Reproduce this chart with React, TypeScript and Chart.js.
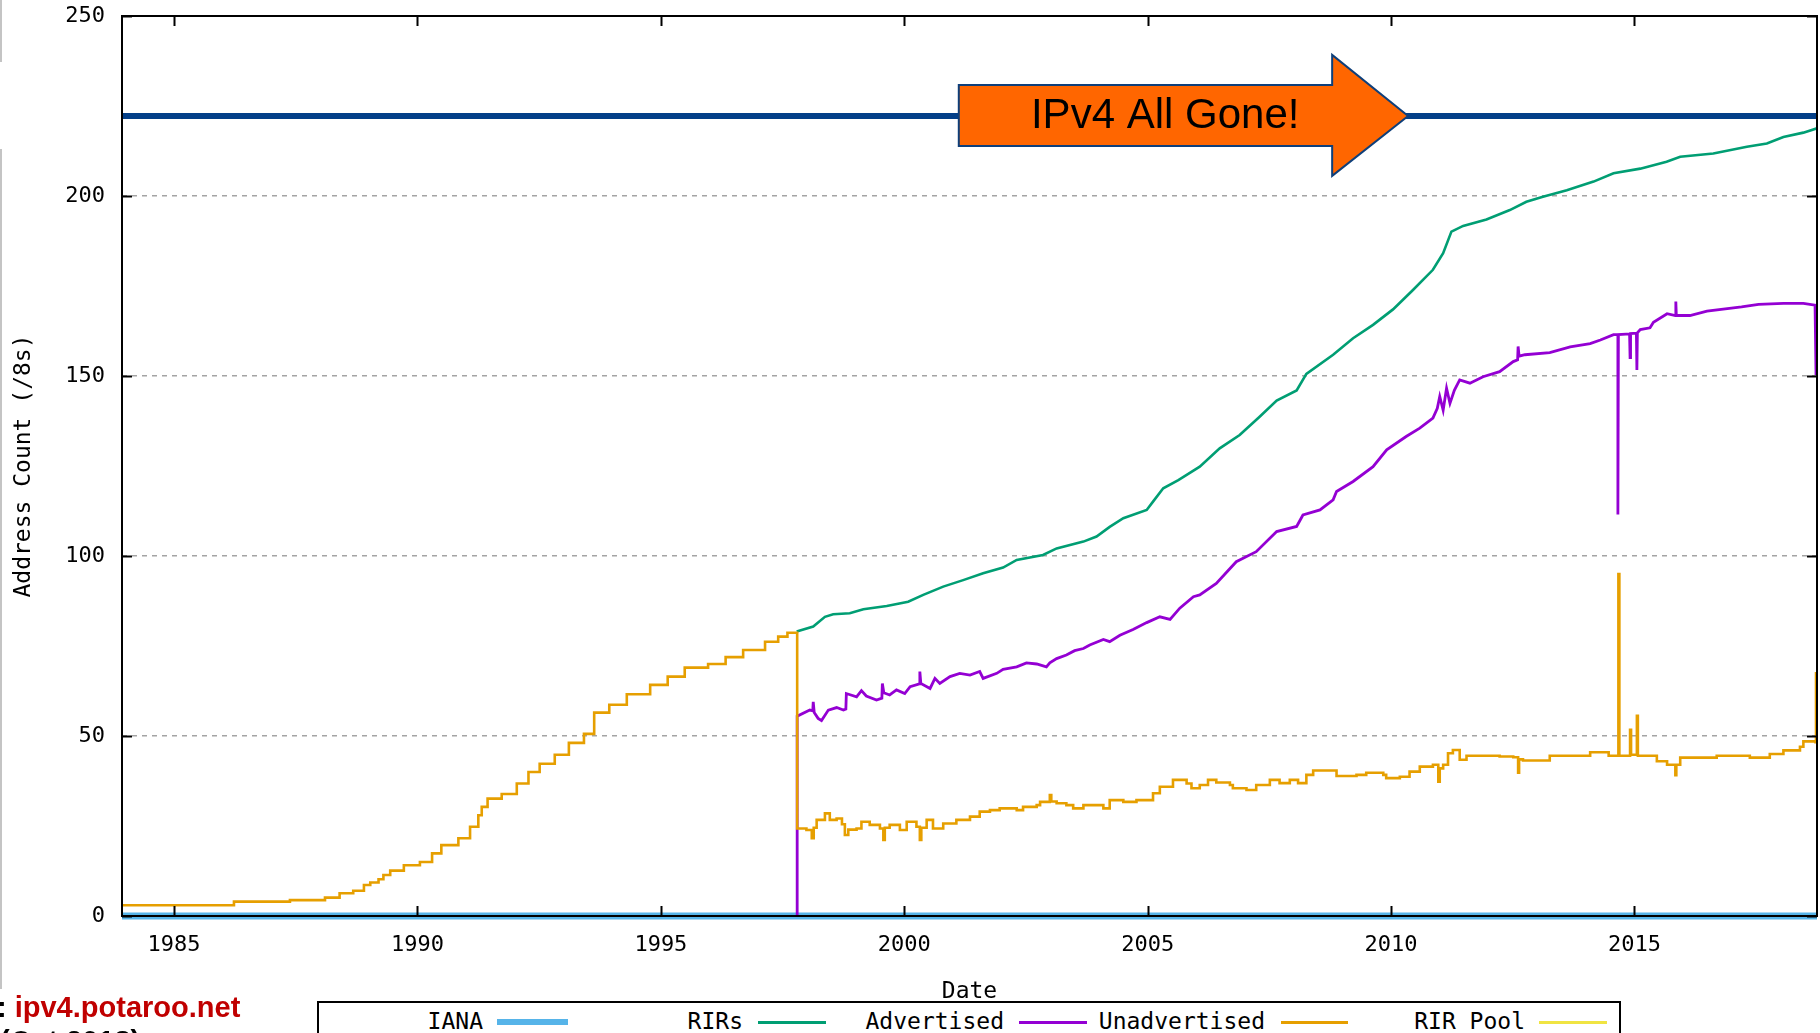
import React, { useEffect, useRef } from "react";
import { Chart, registerables } from "chart.js";

Chart.register(...registerables);

// ---------- axes ----------
const X_MIN = 1983.93;
const X_MAX = 2018.75;
const Y_MIN = 0;
const Y_MAX = 250;
const xTickYears = [1985, 1990, 1995, 2000, 2005, 2010, 2015];
const yTickValues = [0, 50, 100, 150, 200, 250];

// ---------- series ----------
const ianaYears = [1983.93, 2018.75];
const ianaValues = [0, 0];

const rirPoolYears = [1983.93, 2018.75];
const rirPoolValues = [0, 0];

const rirsYears = [
  1997.79, 1998.13, 1998.37, 1998.54, 1998.88, 1999.16, 1999.64, 2000.08, 2000.39, 2000.8,
  2001.21, 2001.62, 2002.03, 2002.31, 2002.85, 2003.13, 2003.68, 2003.95, 2004.22, 2004.5,
  2004.98, 2005.11, 2005.32, 2005.63, 2006.07, 2006.48, 2006.89, 2007.3, 2007.65, 2008.06,
  2008.26, 2008.81, 2009.22, 2009.63, 2010.04, 2010.45, 2010.86, 2011.07, 2011.24, 2011.48,
  2011.96, 2012.44, 2012.78, 2013.12, 2013.61, 2014.16, 2014.57, 2015.12, 2015.66, 2015.94,
  2016.62, 2017.31, 2017.72, 2018.06, 2018.47, 2018.75,
];
const rirsValues = [
  79.0, 80.4, 83.1, 83.8, 84.1, 85.2, 86.1, 87.3, 89.2, 91.5,
  93.3, 95.2, 96.8, 98.9, 100.3, 102.1, 104.0, 105.4, 108.1, 110.5,
  112.8, 115.1, 118.8, 121.1, 124.8, 129.9, 133.6, 138.7, 143.2, 146.0,
  150.6, 155.9, 160.5, 164.2, 168.5, 173.9, 179.5, 184.1, 190.1, 191.7,
  193.5, 196.1, 198.4, 199.8, 201.6, 204.0, 206.3, 207.6, 209.5, 210.9,
  211.8, 213.7, 214.6, 216.4, 217.6, 218.8,
];

// Advertised (purple)
const advYears = [
  1997.8, 1997.8, 1998.06, 1998.12, 1998.13, 1998.15, 1998.23, 1998.3, 1998.44, 1998.61,
  1998.75, 1998.8, 1998.81, 1999.02, 1999.12, 1999.22, 1999.43, 1999.54, 1999.55, 1999.58,
  1999.7, 1999.84, 2000.01, 2000.12, 2000.31, 2000.32, 2000.34, 2000.53, 2000.63, 2000.73,
  2000.94, 2001.14, 2001.35, 2001.55, 2001.62, 2001.9, 2002.03, 2002.31, 2002.51, 2002.72,
  2002.92, 2002.99, 2003.13, 2003.33, 2003.5, 2003.68, 2003.81, 2004.09, 2004.22, 2004.43,
  2004.7, 2004.98, 2005.25, 2005.46, 2005.66, 2005.94, 2006.07, 2006.41, 2006.82, 2007.23,
  2007.65, 2008.06, 2008.19, 2008.54, 2008.81, 2008.88, 2009.22, 2009.63, 2009.91, 2010.31,
  2010.59, 2010.86, 2010.95, 2011.0, 2011.07, 2011.14, 2011.21, 2011.3, 2011.41, 2011.62,
  2011.89, 2012.23, 2012.51, 2012.6, 2012.61, 2012.63, 2012.75, 2013.26, 2013.68, 2014.09,
  2014.3, 2014.57, 2014.66, 2014.66, 2014.67, 2014.9, 2014.91, 2014.92, 2015.04, 2015.05,
  2015.06, 2015.12, 2015.32, 2015.39, 2015.67, 2015.84, 2015.85, 2015.86, 2016.14, 2016.49,
  2017.2, 2017.55, 2018.06, 2018.47, 2018.71, 2018.73,
];
const advValues = [
  0, 55.5, 57.2, 57.0, 59.5, 56.5, 54.9, 54.3, 57.2, 57.9,
  57.2, 57.5, 61.8, 60.9, 62.6, 61.1, 60.0, 60.5, 64.6, 62.0,
  61.4, 62.8, 61.8, 63.7, 64.5, 67.9, 64.6, 63.2, 66.0, 64.6,
  66.5, 67.4, 66.9, 67.9, 66.0, 67.4, 68.5, 69.2, 70.3, 70.0,
  69.2, 70.3, 71.5, 72.5, 73.7, 74.3, 75.3, 76.8, 76.2, 78.0,
  79.6, 81.5, 83.1, 82.4, 85.5, 88.7, 89.2, 92.4, 98.4, 101.2,
  106.8, 108.2, 111.4, 112.8, 115.6, 117.9, 120.7, 124.8, 129.5, 133.2,
  135.5, 138.3, 141.0, 144.3, 140.5, 146.6, 142.4, 146.0, 148.9, 148.0,
  149.8, 151.2, 154.0, 154.5, 158.2, 155.5, 155.9, 156.5, 158.1, 159.0,
  160.0, 161.5, 161.5, 111.5, 161.5, 161.7, 155.1, 161.8, 161.9, 151.7,
  162.0, 162.9, 163.4, 164.9, 167.3, 166.8, 170.7, 166.8, 166.8, 168.0,
  169.2, 169.9, 170.2, 170.2, 169.7, 150.3,
];

// Unadvertised (orange)
const unadvYears = [
  1983.93, 1986.23, 1987.38, 1988.1, 1988.4, 1988.68, 1988.9, 1989.03, 1989.2, 1989.3,
  1989.44, 1989.72, 1990.05, 1990.3, 1990.49, 1990.84, 1991.08, 1991.25, 1991.32, 1991.44,
  1991.73, 1992.04, 1992.28, 1992.51, 1992.82, 1993.11, 1993.42, 1993.63, 1993.94, 1994.3,
  1994.78, 1995.14, 1995.49, 1995.97, 1996.33, 1996.69, 1997.14, 1997.41, 1997.6, 1997.8,
  1997.99, 1998.1, 1998.14, 1998.2, 1998.37, 1998.47, 1998.61, 1998.72, 1998.78, 1998.85,
  1999.02, 1999.12, 1999.29, 1999.5, 1999.57, 1999.6, 1999.7, 1999.91, 2000.05, 2000.25,
  2000.32, 2000.35, 2000.46, 2000.59, 2000.8, 2001.07, 2001.35, 2001.55, 2001.76, 2001.96,
  2002.31, 2002.44, 2002.72, 2002.79, 2002.99, 2003.02, 2003.13, 2003.33, 2003.47, 2003.68,
  2004.09, 2004.22, 2004.5, 2004.77, 2005.11, 2005.25, 2005.52, 2005.8, 2005.9, 2006.07,
  2006.24, 2006.41, 2006.69, 2006.75, 2007.03, 2007.23, 2007.51, 2007.71, 2007.92, 2008.09,
  2008.26, 2008.4, 2008.88, 2009.29, 2009.49, 2009.84, 2009.9, 2010.18, 2010.38, 2010.59,
  2010.86, 2010.97, 2011.0, 2011.07, 2011.17, 2011.27, 2011.41, 2011.55, 2012.23, 2012.51,
  2012.61, 2012.63, 2012.71, 2013.26, 2014.09, 2014.47, 2014.67, 2014.69, 2014.91, 2014.93,
  2015.05, 2015.07, 2015.46, 2015.67, 2015.84, 2015.86, 2015.94, 2016.69, 2017.37, 2017.78,
  2018.06, 2018.4, 2018.47, 2018.72, 2018.73,
];
const unadvValues = [
  3.0, 4.0, 4.4, 5.1, 6.3, 7.0, 8.6, 9.3, 10.2, 11.4,
  12.6, 14.1, 15.0, 17.4, 19.7, 21.6, 24.8, 28.0, 30.3, 32.6,
  33.9, 36.8, 40.0, 42.3, 44.8, 48.1, 50.6, 56.5, 58.7, 61.6,
  64.2, 66.5, 69.0, 70.0, 71.9, 73.9, 76.2, 77.6, 78.7, 24.3,
  23.9, 21.6, 24.5, 26.7, 28.5, 26.7, 27.1, 25.5, 22.5, 24.0,
  24.3, 26.2, 25.3, 24.3, 21.1, 24.5, 25.3, 23.9, 26.2, 24.8,
  21.1, 24.5, 26.7, 24.3, 25.7, 26.7, 27.6, 29.0, 29.4, 29.9,
  29.4, 30.3, 30.8, 31.7, 33.6, 31.8, 31.3, 30.8, 29.9, 30.8,
  29.9, 32.2, 31.7, 32.2, 34.1, 35.9, 37.8, 36.8, 35.5, 36.4,
  37.8, 37.1, 36.4, 35.5, 35.0, 36.4, 37.8, 36.9, 37.8, 36.9,
  39.2, 40.4, 38.9, 39.2, 39.8, 39.2, 38.3, 38.7, 40.1, 41.5,
  42.0, 37.3, 41.0, 42.0, 45.2, 46.1, 43.4, 44.5, 44.3, 44.1,
  39.8, 43.5, 43.2, 44.5, 45.5, 44.5, 95.0, 44.5, 51.7, 44.8,
  55.6, 44.5, 43.0, 42.0, 39.1, 42.0, 44.0, 44.5, 44.0, 45.0,
  46.0, 47.0, 48.5, 48.3, 67.8,
];

// ---------- annotation (slide overlay) in data units ----------
const GONE_LEVEL = 222.2;
const GONE_TEXT = "IPv4 All Gone!";
const arrowYears = [2001.12, 2008.79, 2010.35]; // body start, body end, tip
const arrowLevels = [230.8, 213.9, 239.2, 205.6]; // body top, body bottom, head top, head bottom
const arrowTextPos = [2005.36, 218.9];

// ---------- style ----------
const COLORS = {
  iana: "#56b4e9",
  rirs: "#009e73",
  adv: "#9400d3",
  unadv: "#e69f00",
  pool: "#f0e442",
  gone: "#033f88",
};
const MONO = '"DejaVu Sans Mono", "Liberation Mono", monospace';

const legendItems = [
  { label: "IANA", color: COLORS.iana, thick: 6, textRight: 483, lineLeft: 497, lineRight: 568 },
  { label: "RIRs", color: COLORS.rirs, thick: 3, textRight: 743, lineLeft: 758, lineRight: 826 },
  { label: "Advertised", color: COLORS.adv, thick: 3, textRight: 1004, lineLeft: 1019, lineRight: 1087 },
  { label: "Unadvertised", color: COLORS.unadv, thick: 3, textRight: 1265, lineLeft: 1281, lineRight: 1348 },
  { label: "RIR Pool", color: COLORS.pool, thick: 3, textRight: 1525, lineLeft: 1539, lineRight: 1607 },
];

const pts = (xs: number[], ys: number[]) => xs.map((x, i) => ({ x, y: ys[i] }));

const framePlugin = {
  id: "gnuFrame",
  afterDatasetsDraw(chart: any) {
    const { ctx, chartArea: a, scales } = chart;
    const x = scales.x;
    const y = scales.y;
    ctx.save();
    ctx.strokeStyle = "#000";
    ctx.lineWidth = 2;
    ctx.strokeRect(a.left, a.top, a.right - a.left, a.bottom - a.top);
    ctx.beginPath();
    for (const t of xTickYears) {
      const px = Math.round(x.getPixelForValue(t)) + 0.5;
      ctx.moveTo(px, a.bottom);
      ctx.lineTo(px, a.bottom - 10);
      ctx.moveTo(px, a.top);
      ctx.lineTo(px, a.top + 10);
    }
    for (const v of yTickValues) {
      const py = Math.round(y.getPixelForValue(v)) + 0.5;
      ctx.moveTo(a.left, py);
      ctx.lineTo(a.left + 10, py);
      ctx.moveTo(a.right, py);
      ctx.lineTo(a.right - 10, py);
    }
    ctx.stroke();

    // arrow
    const bx0 = x.getPixelForValue(arrowYears[0]);
    const bx1 = x.getPixelForValue(arrowYears[1]);
    const tx = x.getPixelForValue(arrowYears[2]);
    const yTop = y.getPixelForValue(arrowLevels[0]);
    const yBot = y.getPixelForValue(arrowLevels[1]);
    const hTop = y.getPixelForValue(arrowLevels[2]);
    const hBot = y.getPixelForValue(arrowLevels[3]);
    const ty = y.getPixelForValue(GONE_LEVEL);
    ctx.beginPath();
    ctx.moveTo(bx0, yTop);
    ctx.lineTo(bx1, yTop);
    ctx.lineTo(bx1, hTop);
    ctx.lineTo(tx, ty);
    ctx.lineTo(bx1, hBot);
    ctx.lineTo(bx1, yBot);
    ctx.lineTo(bx0, yBot);
    ctx.closePath();
    ctx.fillStyle = "#ff6600";
    ctx.fill();
    ctx.strokeStyle = "#0e3f7a";
    ctx.lineWidth = 2;
    ctx.lineJoin = "miter";
    ctx.stroke();
    ctx.fillStyle = "#000";
    ctx.font = '42px "Liberation Sans", Arial, sans-serif';
    ctx.textAlign = "center";
    ctx.textBaseline = "alphabetic";
    ctx.fillText(GONE_TEXT, x.getPixelForValue(arrowTextPos[0]), y.getPixelForValue(arrowTextPos[1]));
    ctx.restore();
  },
};

export default function App() {
  const canvasRef = useRef<HTMLCanvasElement | null>(null);

  useEffect(() => {
    const canvas = canvasRef.current;
    if (!canvas) return;
    const lineBase = { pointRadius: 0, fill: false, tension: 0 };
    const chart = new Chart(canvas, {
      type: "line",
      data: {
        datasets: [
          { ...lineBase, label: "IPv4 All Gone", data: pts([X_MIN, X_MAX], [GONE_LEVEL, GONE_LEVEL]), borderColor: COLORS.gone, borderWidth: 6, order: 0 },
          { ...lineBase, label: "Unadvertised", data: pts(unadvYears, unadvValues), borderColor: COLORS.unadv, borderWidth: 2.6, stepped: true, order: 1 },
          { ...lineBase, label: "Advertised", data: pts(advYears, advValues), borderColor: COLORS.adv, borderWidth: 2.8, order: 2 },
          { ...lineBase, label: "RIRs", data: pts(rirsYears, rirsValues), borderColor: COLORS.rirs, borderWidth: 2.6, order: 3 },
          { ...lineBase, label: "IANA", data: pts(ianaYears, ianaValues), borderColor: COLORS.iana, borderWidth: 7, clip: false, order: 4 },
          { ...lineBase, label: "RIR Pool", data: pts(rirPoolYears, rirPoolValues), borderColor: COLORS.pool, borderWidth: 2.5, order: 5 },
        ],
      } as any,
      options: {
        responsive: false,
        animation: false,
        devicePixelRatio: 1,
        layout: { padding: { top: 16, right: 3, bottom: 0, left: 0 } },
        plugins: { legend: { display: false }, tooltip: { enabled: false } },
        scales: {
          x: {
            type: "linear",
            min: X_MIN,
            max: X_MAX,
            afterBuildTicks: (s: any) => {
              s.ticks = xTickYears.map((v) => ({ value: v }));
            },
            afterFit: (s: any) => {
              s.height = 117;
              s.paddingLeft = 0;
              s.paddingRight = 0;
            },
            grid: { display: false, drawTicks: false },
            border: { display: false },
            ticks: {
              padding: 16,
              maxRotation: 0,
              autoSkip: false,
              color: "#000",
              font: { family: MONO, size: 22 },
              callback: (v: any) => String(v),
            },
            title: {
              display: true,
              text: "Date",
              color: "#000",
              font: { family: MONO, size: 23 },
              padding: { top: 0, bottom: 27 },
            },
          },
          y: {
            type: "linear",
            min: Y_MIN,
            max: Y_MAX,
            afterBuildTicks: (s: any) => {
              s.ticks = yTickValues.map((v) => ({ value: v }));
            },
            afterFit: (s: any) => {
              s.width = 122;
              s.paddingTop = 0;
              s.paddingBottom = 0;
            },
            grid: {
              drawTicks: false,
              lineWidth: 1.5,
              color: (c: any) => (c.tick && (c.tick.value === Y_MIN || c.tick.value === Y_MAX) ? "rgba(0,0,0,0)" : "#a4a4a4"),
            },
            border: { display: false, dash: [5, 5] },
            ticks: {
              padding: 17,
              color: "#000",
              font: { family: MONO, size: 22 },
              callback: (v: any) => String(v),
            },
            title: {
              display: true,
              text: "Address Count (/8s)",
              color: "#000",
              font: { family: MONO, size: 23 },
              padding: { top: 10, bottom: 0 },
            },
          },
        },
      } as any,
      plugins: [framePlugin],
    });
    return () => chart.destroy();
  }, []);

  const boxLeft = 317;
  const boxTop = 1001;
  const boxWidth = 1304;

  return (
    <div style={{ position: "absolute", left: 0, top: 0, width: 1820, height: 1033, overflow: "hidden", background: "#fff" }}>
      <canvas ref={canvasRef} width={1820} height={1033} style={{ position: "absolute", left: 0, top: 0, width: 1820, height: 1033 }} />
      <div style={{ position: "absolute", left: 0, top: 0, width: 2, height: 62, background: "#c4c4c4" }} />
      <div style={{ position: "absolute", left: 0, top: 149, width: 2, height: 840, background: "#c4c4c4" }} />
      <div
        style={{
          position: "absolute",
          left: boxLeft,
          top: boxTop,
          width: boxWidth,
          height: 34,
          border: "2px solid #000",
          boxSizing: "border-box",
          fontFamily: MONO,
          fontSize: 23,
          color: "#000",
          background: "#fff",
        }}
      >
        {legendItems.map((it) => (
          <React.Fragment key={it.label}>
            <span
              style={{
                position: "absolute",
                right: boxLeft + boxWidth - 2 - it.textRight,
                top: 5,
                lineHeight: "26px",
                whiteSpace: "nowrap",
              }}
            >
              {it.label}
            </span>
            <span
              style={{
                position: "absolute",
                left: it.lineLeft - boxLeft - 2,
                width: it.lineRight - it.lineLeft,
                top: 19 - it.thick / 2,
                height: it.thick,
                background: it.color,
              }}
            />
          </React.Fragment>
        ))}
      </div>
      <div
        style={{
          position: "absolute",
          left: -3,
          top: 993,
          fontFamily: '"Liberation Sans", Arial, sans-serif',
          fontWeight: "bold",
          fontSize: 29,
          lineHeight: "29px",
          whiteSpace: "nowrap",
          color: "#000",
        }}
      >
        : <span style={{ color: "#c00000" }}>ipv4.potaroo.net</span>
      </div>
      <div
        style={{
          position: "absolute",
          left: 0,
          top: 1027,
          fontFamily: '"Liberation Sans", Arial, sans-serif',
          fontWeight: "bold",
          fontSize: 29,
          lineHeight: "29px",
          whiteSpace: "nowrap",
          color: "#000",
        }}
      >
        (Oct 2018)
      </div>
    </div>
  );
}
